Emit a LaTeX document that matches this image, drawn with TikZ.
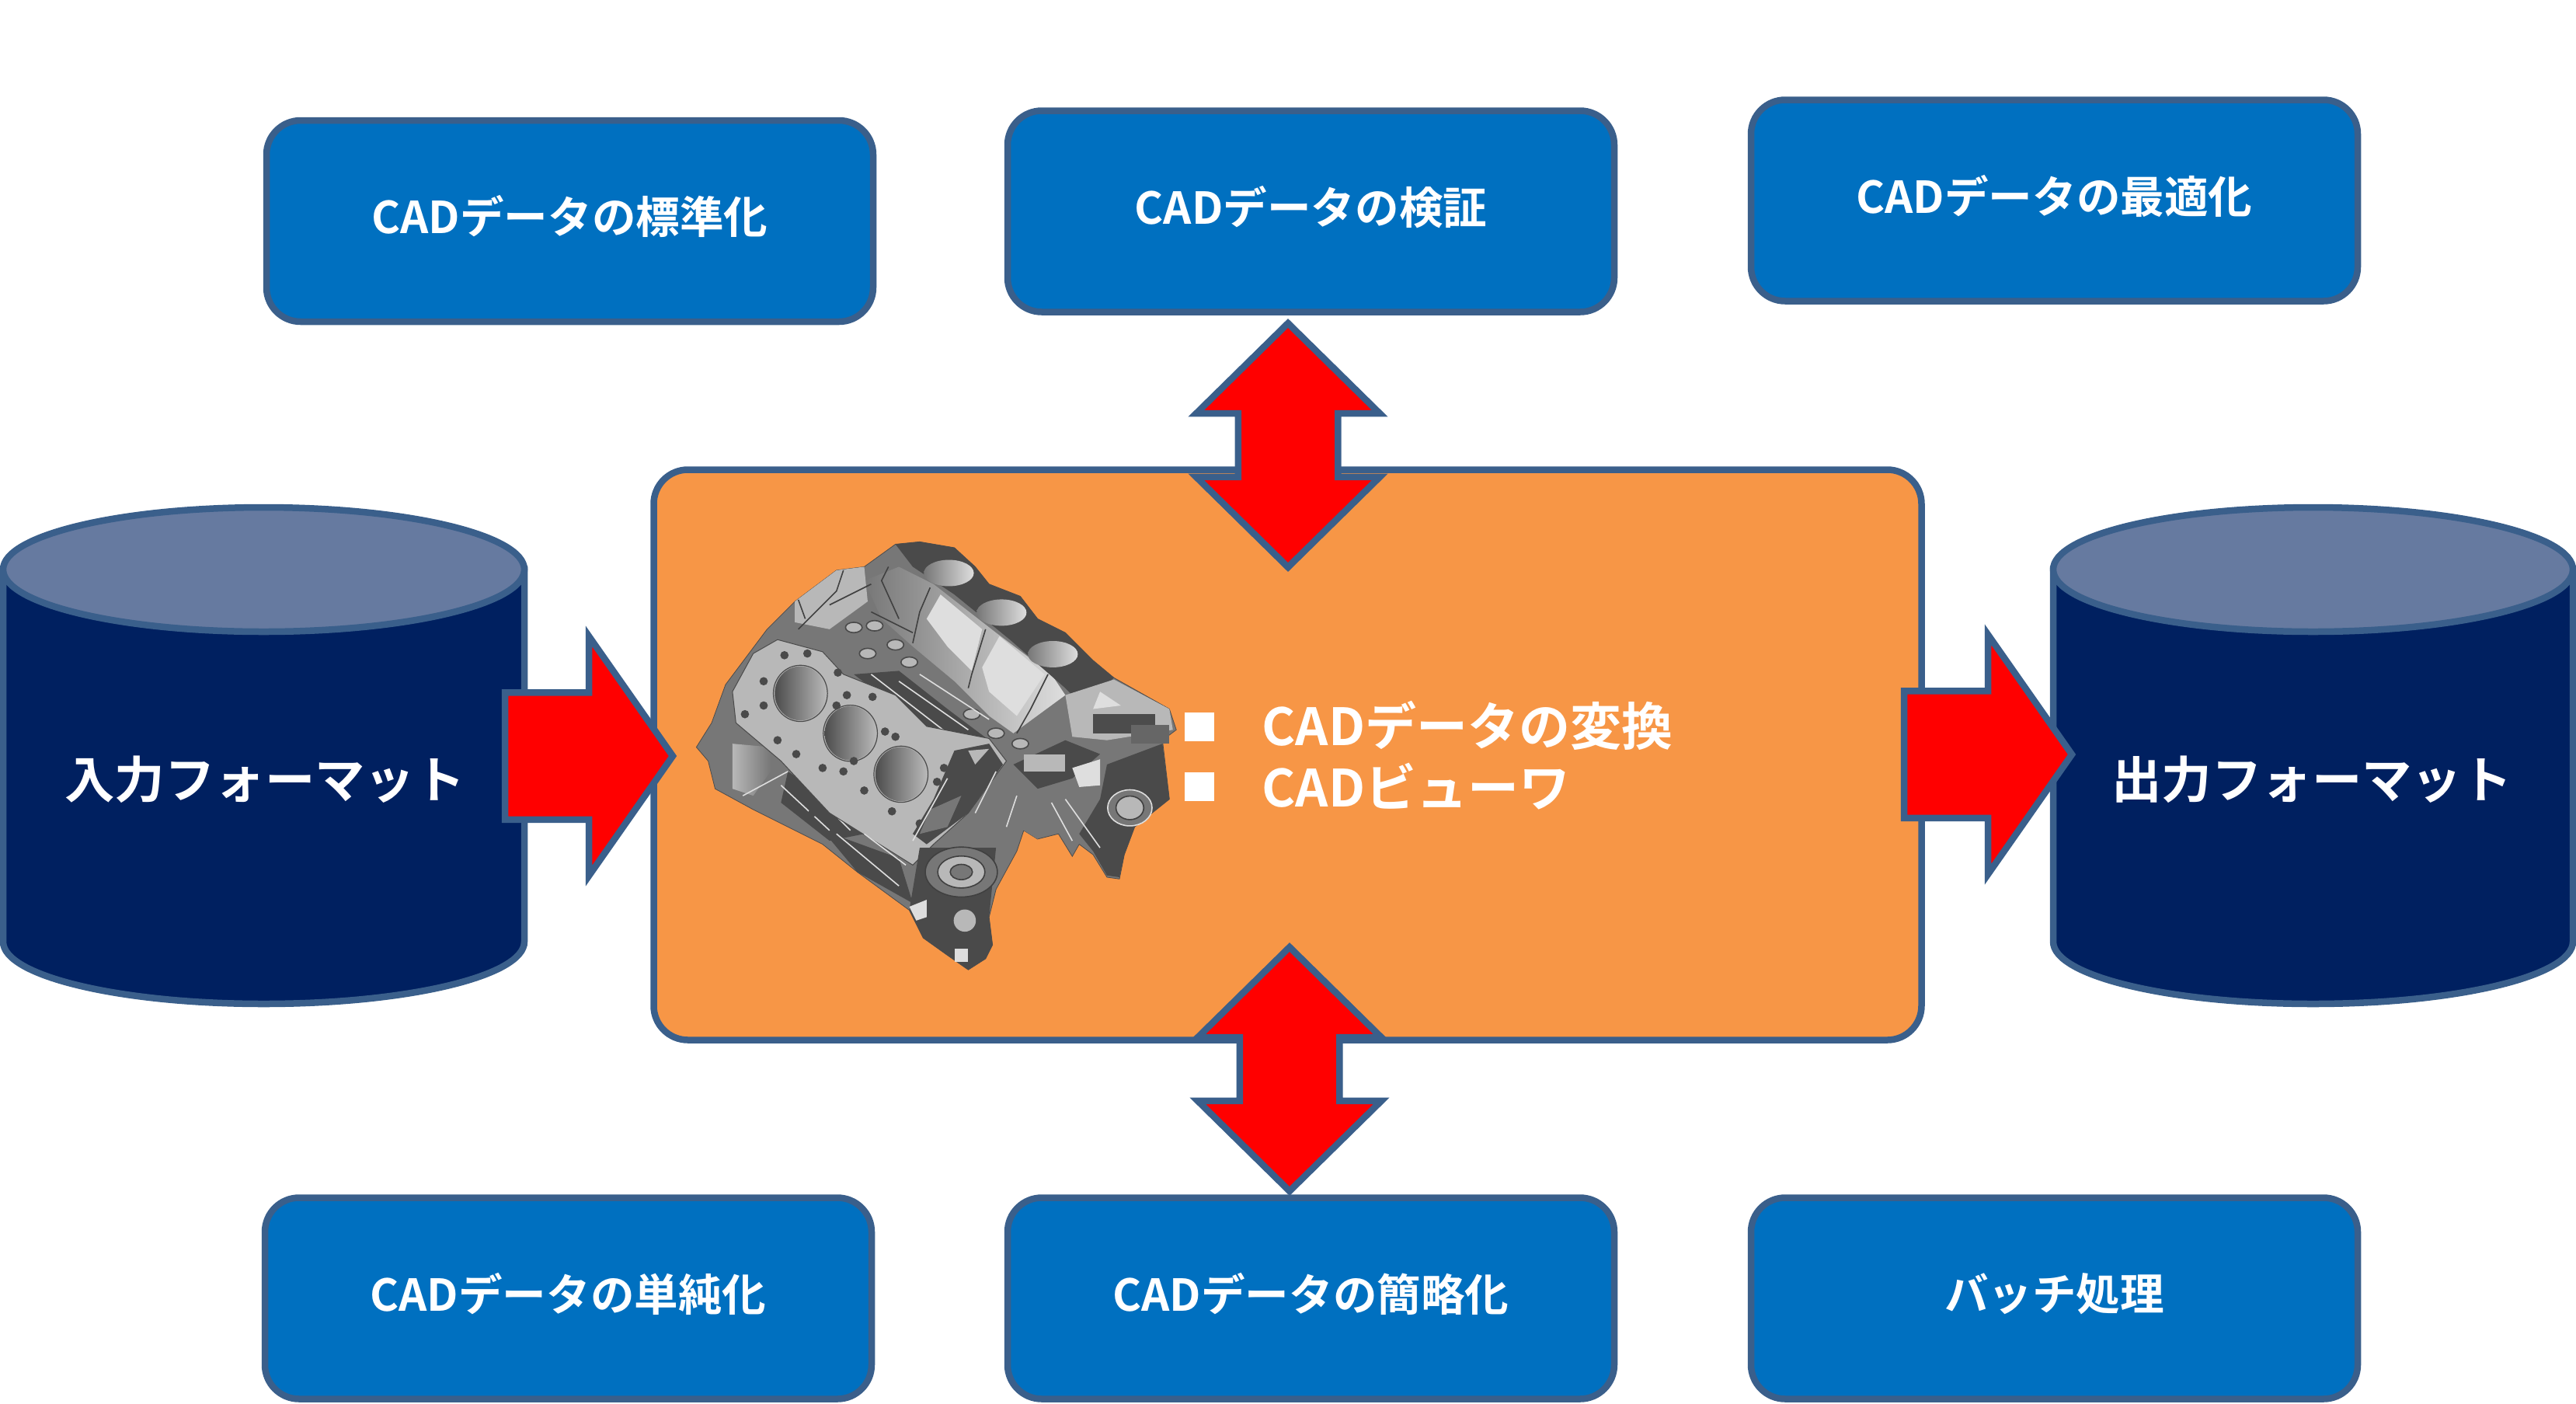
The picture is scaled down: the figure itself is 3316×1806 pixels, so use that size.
\documentclass[tikz,border=0pt]{standalone}
\usepackage{fontspec}
\setmainfont{Noto Sans CJK JP}[BoldFont={Noto Sans CJK JP Bold}]
\usetikzlibrary{shapes.arrows}
\definecolor{edgeblue}{HTML}{3A5F8B}
\definecolor{boxblue}{HTML}{0070C0}
\definecolor{navy}{HTML}{002060}
\definecolor{lidblue}{HTML}{667AA0}
\definecolor{orangefill}{HTML}{F79646}
\definecolor{gA}{HTML}{4A4A4A}
\definecolor{gB}{HTML}{777777}
\definecolor{gC}{HTML}{B8B8B8}
\definecolor{gD}{HTML}{DEDEDE}
\tikzset{
  outl/.style={draw=edgeblue,line width=4.25pt,miter limit=10},
  taskbox/.style={outl,fill=boxblue,rounded corners=22pt,minimum width=390.5pt,minimum height=129.5pt,inner sep=0pt,outer sep=0pt,text=white,font=\bfseries\fontsize{28.3}{30}\selectfont},
  drum/.style={outl,fill=navy},
  drumlid/.style={outl,fill=lidblue},
  drumtext/.style={text=white,inner sep=0pt,font=\bfseries\fontsize{32.2}{34}\selectfont},
  onearrow/.style={outl,fill=red,shape=single arrow,inner sep=0pt,outer sep=0pt,minimum height=108pt,minimum width=150pt,single arrow head extend=36.25pt,single arrow tip angle=110},
  twoarrow/.style={outl,fill=red,shape=double arrow,rotate=90,inner sep=0pt,outer sep=0pt,minimum height=157pt,minimum width=114pt,double arrow head extend=27pt,double arrow tip angle=91},
  listtext/.style={text=white,inner sep=0pt,anchor=west,font=\bfseries\fontsize{33}{35}\selectfont},
  bulletbox/.style={fill=white,inner sep=0pt,outer sep=0pt,minimum width=19pt,minimum height=18.5pt},
  dline/.style={draw=black!75,line width=0.8pt},
  lline/.style={draw=gD,line width=0.8pt},
  hole/.style={fill=gA,draw=none}
}
\begin{document}
\begin{tikzpicture}[x=0.5pt,y=-0.5pt]
\useasboundingbox (0,0) rectangle (3316,1806);

% input and output drums
\draw[drum] (4,733) -- (4,1212) arc[start angle=180,end angle=0,x radius=335.5,y radius=80] -- (675,733) -- cycle;
\draw[drumlid] (339.5,733) ellipse [x radius=335.5,y radius=80];
\node[drumtext] (inFmt) at (341,1003) {入力フォーマット};
\draw[drum] (2643,733) -- (2643,1212) arc[start angle=180,end angle=0,x radius=334.5,y radius=80] -- (3312,733) -- cycle;
\draw[drumlid] (2977.5,733) ellipse [x radius=334.5,y radius=80];
\node[drumtext] (outFmt) at (2976,1003) {出力フォーマット};

% task boxes
\node[taskbox] (std)  at (733.5,284.5)  {\raisebox{8.2pt}{CADデータの標準化}};
\node[taskbox] (chk)  at (1687.5,272)   {\raisebox{8.2pt}{CADデータの検証}};
\node[taskbox] (opt)  at (2644.5,258)   {\raisebox{8.2pt}{CADデータの最適化}};
\node[taskbox] (uni)  at (731.5,1671)   {\raisebox{8.2pt}{CADデータの単純化}};
\node[taskbox] (sim)  at (1687.5,1671)  {\raisebox{8.2pt}{CADデータの簡略化}};
\node[taskbox] (bat)  at (2644.5,1671)  {\raisebox{8.2pt}{バッチ処理}};

% central panel
\node[outl,fill=orangefill,rounded corners=22pt,minimum width=816pt,minimum height=367pt,inner sep=0pt,outer sep=0pt] (core) at (1657.5,971.5) {};

% block arrows
\node[onearrow,anchor=tail] (arrIn)  at (650,973) {\rule{0pt}{77.5pt}};
\node[onearrow,anchor=tail] (arrOut) at (2451,971) {\rule{0pt}{77.5pt}};
\node[twoarrow] (arrTop) at (1658,573) {\rule{0pt}{60pt}};
\node[twoarrow] (arrBot) at (1660,1376) {\rule{0pt}{60pt}};

% engine block (drawn in coordinates of its own)
\begin{scope}[shift={(800,600)},x=0.4464pt,y=-0.2232pt]
\fill[gB,draw=black!70,line width=0.4pt] (395,225)--(430,218)--(480,235)--(510,290)--(530,340)--(575,375)--(600,440)--(640,480)--(680,560)--(710,610)--(790,700)--(800,760)--(780,790)--(790,960)--(740,1040)--(725,1120)--(718,1190)--(700,1185)--(680,1120)--(660,1090)--(650,1125)--(630,1060)--(600,1075)--(580,1050)--(570,1110)--(540,1220)--(530,1300)--(535,1380)--(525,1420)--(500,1452)--(470,1410)--(435,1360)--(415,1280)--(340,1170)--(290,1090)--(190,990)--(135,930)--(125,850)--(108,810)--(130,740)--(150,630)--(180,550)--(210,470)--(250,390)--(310,300)--(350,290)--cycle;
% cylinder walls
\shade[left color=gB,right color=gD] (400,290)--(450,340)--(540,480)--(620,600)--(640,660)--(565,770)--(530,720)--(480,620)--(420,520)--(375,440)--(350,330)--cycle;
\fill[gD] (460,370)--(520,470)--(505,590)--(470,520)--(440,440)--cycle;
\fill[gD] (545,490)--(610,600)--(570,720)--(530,650)--(520,580)--cycle;
\draw[dline] (385,290)--(375,330)--(400,440) (445,350)--(430,420)--(420,510) (525,470)--(505,600)--(500,640) (615,600)--(590,700)--(570,770);
% upper deck
\fill[gA] (395,225)--(430,218)--(480,235)--(510,290)--(530,340)--(575,375)--(600,440)--(640,480)--(680,560)--(710,610)--(690,650)--(665,690)--(640,640)--(560,500)--(480,370)--(420,290)--cycle;
\foreach \ex/\ey in {472/308,548/422,622/542}{
  \shade[left color=gB,right color=gD] (\ex,\ey) ellipse [x radius=36,y radius=38];
}
% front end of the block
\fill[gC] (640,660)--(710,615)--(790,700)--(795,760)--(700,790)--(650,780)--cycle;
\fill[gD] (690,650)--(720,690)--(680,700)--cycle;
\fill[black!70] (680,715) rectangle (770,770);
\fill[black!60] (735,745) rectangle (790,800);
\fill[gA] (565,860)--(640,790)--(690,830)--(650,900)--(600,930)--cycle;
\fill[gC] (580,830) rectangle (640,880);
\fill[gD] (650,870)--(690,845)--(690,920)--(660,925)--cycle;
% upper-left ribs
\fill[gC] (250,390)--(310,300)--(350,290)--(355,390)--(300,470)--(250,450)--cycle;
\draw[dline] (320,300)--(310,360)--(255,470) (255,385)--(265,440) (300,400)--(360,340) (360,420)--(420,480);
\foreach \ex/\ey in {335/465,365/460,395/515,415/565,505/715,540/770,575/800,355/540}{
  \draw[gA,line width=0.8pt,fill=gC] (\ex,\ey) ellipse [x radius=12,y radius=15];
}
\fill[gA] (335,600)--(400,590)--(470,700)--(530,790)--(480,800)--(400,700)--cycle;
\draw[lline] (400,620)--(500,760) (430,600)--(530,730) (360,600)--(470,770);
% lower left cylinder
\shade[left color=gC,right color=gB] (160,800)--(215,810)--(215,880)--(190,950)--(160,930)--cycle;
\fill[gA] (240,880)--(300,960)--(350,1060)--(300,1080)--(230,970)--cycle;
\draw[lline] (250,890)--(330,1050) (230,920)--(300,1050) (175,950)--(240,880);
% machined deck face
\fill[gC,draw=gA,line width=0.5pt] (160,650)--(190,540)--(225,500)--(290,535)--(320,600)--(395,660)--(440,750)--(530,785)--(555,850)--(500,1000)--(450,1090)--(420,1150)--(300,1000)--(230,850)--(165,740)--cycle;
\foreach \ex/\ey in {258/655,330/770,403/888}{
  \shade[left color=black!70,right color=gC] (\ex,\ey) ellipse [x radius=37,y radius=78];
  \draw[gA,line width=0.6pt] (\ex,\ey) ellipse [x radius=39,y radius=81];
}
\foreach \ex/\ey in {205/620,205/690,178/715,235/545,268/540,312/595,310/690,252/830,325/660,362/665,380/765,335/850,320/880,390/995,455/910,350/935,290/870,395/780,465/870,430/1030,275/1000,225/790}{
  \fill[hole] (\ex,\ey) ellipse [x radius=6,y radius=12];
}
% right of deck
\fill[gA] (480,820)--(530,800)--(550,860)--(500,1000)--(440,1090)--(420,1060)--(450,960)--cycle;
\fill[gC] (500,820)--(530,815)--(510,860)--cycle;
\fill[gB] (445,990)--(490,950)--(470,1040)--(430,1060)--cycle;
\draw[lline] (470,900)--(420,1080) (540,880)--(510,1000);
% lower right boss
\fill[gA] (430,1100)--(540,1100)--(530,1300)--(535,1380)--(525,1420)--(500,1452)--(470,1410)--(435,1360)--(415,1280)--cycle;
\draw[dline,fill=gB] (490,1170) ellipse [x radius=52,y radius=72];
\draw[dline,fill=gC] (490,1170) ellipse [x radius=34,y radius=46];
\draw[dline,fill=gB] (490,1170) ellipse [x radius=16,y radius=22];
\fill[gC] (495,1310) ellipse [x radius=16,y radius=32];
\fill[gD] (415,1270)--(440,1250)--(440,1300)--(425,1310)--cycle;
\fill[gD] (480,1390) rectangle (500,1430);
% lower left wall detail
\fill[gA] (290,1050)--(400,1130)--(420,1260)--(340,1170)--cycle;
\draw[lline] (310,1060)--(400,1210) (350,1060)--(410,1150);
% right side
\fill[gA] (700,860)--(780,800)--(790,960)--(740,1040)--(725,1120)--(718,1185)--(700,1180)--(680,1110)--(660,1060)--(690,960)--cycle;
\draw[lline,fill=gB] (733,985) ellipse [x radius=32,y radius=52];
\draw[dline,fill=gC] (733,985) ellipse [x radius=20,y radius=34];
\fill[gB] (560,960)--(640,950)--(650,1000)--(600,1075)--(580,1050)--(540,1020)--cycle;
\draw[lline] (570,950)--(555,1040) (620,970)--(650,1080) (640,960)--(690,1100);
\end{scope}

% list
\node[bulletbox] (b1) at (1544,935.5) {};
\node[bulletbox] (b2) at (1544,1012.5) {};
\node[listtext] (l1) at (1624,934) {CADデータの変換};
\node[listtext] (l2) at (1624,1012) {CADビューワ};
\end{tikzpicture}
\end{document}
